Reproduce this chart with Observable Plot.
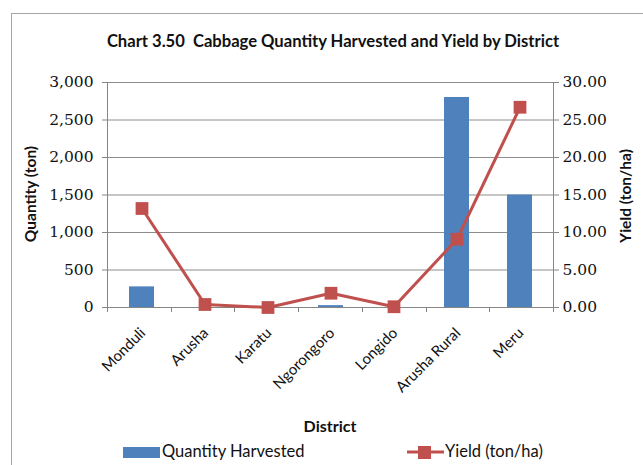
<!DOCTYPE html>
<html>
<head>
<meta charset="utf-8">
<script src="https://cdn.jsdelivr.net/npm/d3@7"></script>
<script src="https://cdn.jsdelivr.net/npm/@observablehq/plot@0.6"></script>
<style>
  html, body { margin: 0; padding: 0; background: #fff; }
  #wrap { position: relative; width: 643px; height: 465px; overflow: hidden; background: #fff; font-family: Lato, "Open Sans", sans-serif; }
  #border { position: absolute; left: 11px; top: 13px; right: -2px; bottom: -2px; border-top: 1.5px solid #a6a6a6; border-left: 1.5px solid #a6a6a6; }
  #title { position: absolute; left: 0; width: 666px; top: 31px; text-align: center; font-weight: bold; font-size: 16.6px; color: #111; white-space: nowrap; }
  #chart { position: absolute; left: 0; top: 60px; }
  .ytitle { position: absolute; font-weight: bold; font-size: 15.5px; color: #111; white-space: nowrap; transform: translate(-50%, -50%) rotate(-90deg); }
  #xtitle { position: absolute; left: 330px; top: 425px; transform: translate(-50%, -50%); font-weight: bold; font-size: 16px; color: #111; }
  .leg { position: absolute; top: 441px; font-size: 16.5px; color: #111; white-space: nowrap; }
</style>
</head>
<body>
<div id="wrap">
  <div id="border"></div>
  <div id="title">Chart 3.50&nbsp;&nbsp;Cabbage Quantity Harvested and Yield by District</div>
  <div id="chart"></div>
  <div class="ytitle" style="left:30px; top:194px;">Quantity (ton)</div>
  <div class="ytitle" style="left:625px; top:196px;">Yield (ton/ha)</div>
  <div id="xtitle">District</div>
  <div class="leg" style="left:123px;"><span style="display:inline-block;width:37px;height:11px;background:#4F81BD;vertical-align:-1px;"></span><span style="margin-left:2px;">Quantity Harvested</span></div>
  <div class="leg" style="left:407px;"><svg width="37" height="14" style="vertical-align:-2px;"><line x1="0" x2="37" y1="7" y2="7" stroke="#C0504D" stroke-width="3"/><rect x="11" y="1" width="13" height="13" fill="#C0504D"/></svg><span style="margin-left:1px;">Yield (ton/ha)</span></div>
</div>
<script>
const districts = ["Monduli", "Arusha", "Karatu", "Ngorongoro", "Longido", "Arusha Rural", "Meru"];
const quantityHarvested = [275, 0, 0, 25, 0, 2800, 1500];
const yieldTonHa = [13.2, 0.4, 0.0, 1.9, 0.1, 9.1, 26.7];
const quantityTicks = [0, 500, 1000, 1500, 2000, 2500, 3000];
const yieldTicks = [0, 5, 10, 15, 20, 25, 30];

const ratio = quantityTicks[quantityTicks.length - 1] / yieldTicks[yieldTicks.length - 1];
const data = districts.map((d, i) => ({district: d, quantity: quantityHarvested[i], yield: yieldTonHa[i]}));

const blue = "#4F81BD", red = "#C0504D", axisGray = "#868686";
const serif = "'DejaVu Serif', serif";

const boundaryTicks = (index, scales, values, dims) => {
  const g = d3.create("svg:g").attr("stroke", axisGray).attr("stroke-width", 1);
  const x0 = dims.marginLeft, x1 = dims.width - dims.marginRight;
  const y0 = scales.y(0), yTop = scales.y(quantityTicks[quantityTicks.length - 1]);
  const n = districts.length, step = (x1 - x0) / n;
  for (let i = 0; i <= n; i++) {
    const xx = Math.round(x0 + i * step) + 0.5;
    g.append("line").attr("x1", xx).attr("x2", xx).attr("y1", y0).attr("y2", y0 + 5);
  }
  g.append("line").attr("x1", x0 + 0.5).attr("x2", x0 + 0.5).attr("y1", yTop).attr("y2", y0);
  g.append("line").attr("x1", x1 + 0.5).attr("x2", x1 + 0.5).attr("y1", yTop).attr("y2", y0);
  return g.node();
};

const chart = Plot.plot({
  width: 643,
  height: 380,
  marginTop: 22,
  marginBottom: 133,
  marginLeft: 107,
  marginRight: 90,
  style: {background: "transparent", color: "#111"},
  x: {type: "band", domain: districts, padding: 0},
  y: {domain: [0, 3000]},
  marks: [
    Plot.gridY(quantityTicks, {stroke: "#8c8c8c", strokeOpacity: 1, strokeWidth: 1}),
    Plot.barY(data, {x: "district", y: "quantity", fill: blue, insetLeft: 19, insetRight: 19}),
    Plot.ruleY([0], {stroke: axisGray}),
    boundaryTicks,
    Plot.axisY({ticks: quantityTicks, anchor: "left", tickFormat: d3.format(","), tickSize: 5, tickPadding: 9, stroke: axisGray, fontFamily: serif, fontSize: 15.5, label: null}),
    Plot.axisY({ticks: quantityTicks, anchor: "right", tickFormat: d => (d / ratio).toFixed(2), tickSize: 5, tickPadding: 4, stroke: axisGray, fontFamily: serif, fontSize: 15.5, label: null}),
    Plot.axisX({tickRotate: -45, tickSize: 0, tickPadding: 23, dx: 1, fontFamily: "Lato, sans-serif", fontSize: 15, label: null}),
    Plot.line(data, {x: "district", y: d => d.yield * ratio, stroke: red, strokeWidth: 3}),
    Plot.dot(data, {x: "district", y: d => d.yield * ratio, symbol: "square", r: 7.2, fill: red, stroke: "none"})
  ]
});
document.getElementById("chart").appendChild(chart);
</script>
</body>
</html>
